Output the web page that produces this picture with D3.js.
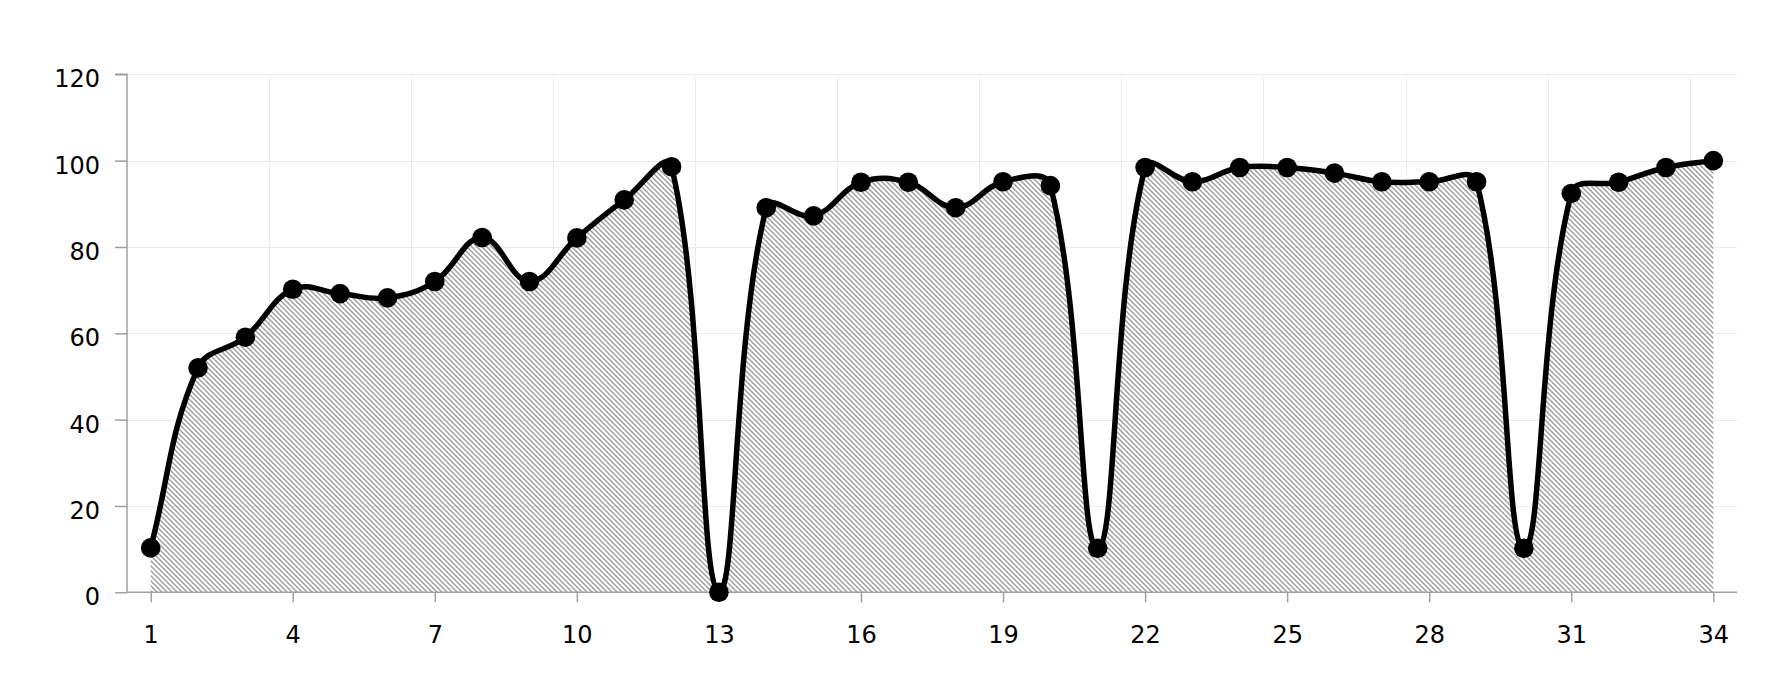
<!DOCTYPE html>
<html>
<head>
<meta charset="utf-8">
<script src="https://cdn.jsdelivr.net/npm/d3@7"></script>
<style>
  html, body { margin: 0; padding: 0; background: #fff; }
  svg { display: block; }
  .tick text { font-family: "DejaVu Sans", Verdana, sans-serif; font-size: 24px; fill: #000; }
</style>
</head>
<body>
<svg id="chart" width="1774" height="688"></svg>
<script>
const categories = [1,2,3,4,5,6,7,8,9,10,11,12,13,14,15,16,17,18,19,20,21,22,23,24,25,26,27,28,29,30,31,32,33,34];
const values = [10.3, 52.0, 59.1, 70.2, 69.2, 68.2, 72.0, 82.2, 72.0, 82.1, 90.9, 98.6, 0, 89.1, 87.2, 95.0, 95.0, 89.1, 95.1, 94.2, 10.2, 98.4, 95.1, 98.4, 98.4, 97.1, 95.1, 95.1, 95.1, 10.2, 92.4, 95.0, 98.4, 100];
const xTickLabels = [1, 4, 7, 10, 13, 16, 19, 22, 25, 28, 31, 34];
const yTickLabels = [0, 20, 40, 60, 80, 100, 120];
const xGridLines = [3.5, 6.5, 9.5, 12.5, 15.5, 18.5, 21.5, 24.5, 27.5, 30.5, 33.5];

const data = categories.map((c, i) => ({ x: c, y: values[i] }));

const svg = d3.select("#chart");
const x = d3.scaleLinear().domain([0.5, 34.5]).range([127, 1737]);
const y = d3.scaleLinear().domain([0, 120]).range([592.3, 74.3]);

// spline through points (tension-based, control points capped to plot area)
function splinePath(pts, tension, area, closeToY) {
  const n = pts.length;
  const cps = pts.map((cur, i) => {
    const prev = pts[Math.max(i - 1, 0)], next = pts[Math.min(i + 1, n - 1)];
    const d01 = Math.hypot(cur[0] - prev[0], cur[1] - prev[1]);
    const d12 = Math.hypot(next[0] - cur[0], next[1] - cur[1]);
    let s01 = d01 / (d01 + d12), s12 = d12 / (d01 + d12);
    if (isNaN(s01)) s01 = 0;
    if (isNaN(s12)) s12 = 0;
    const fa = tension * s01, fb = tension * s12;
    const cap = (v, lo, hi) => Math.max(lo, Math.min(hi, v));
    return {
      px: cap(cur[0] - fa * (next[0] - prev[0]), area.x0, area.x1),
      py: cap(cur[1] - fa * (next[1] - prev[1]), area.y0, area.y1),
      nx: cap(cur[0] + fb * (next[0] - prev[0]), area.x0, area.x1),
      ny: cap(cur[1] + fb * (next[1] - prev[1]), area.y0, area.y1)
    };
  });
  const p = d3.path();
  p.moveTo(pts[0][0], pts[0][1]);
  for (let i = 1; i < n; i++) {
    p.bezierCurveTo(cps[i - 1].nx, cps[i - 1].ny, cps[i].px, cps[i].py, pts[i][0], pts[i][1]);
  }
  if (closeToY !== undefined) {
    p.lineTo(pts[n - 1][0], closeToY);
    p.lineTo(pts[0][0], closeToY);
    p.closePath();
  }
  return p.toString();
}

const pix = data.map(d => [x(d.x), y(d.y)]);
const plotArea = { x0: x(0.5), x1: x(34.5), y0: y(120), y1: y(0) };

// pattern
const defs = svg.append("defs");
const pat = defs.append("pattern")
  .attr("id", "hatch")
  .attr("patternUnits", "userSpaceOnUse")
  .attr("width", 5).attr("height", 5);
pat.append("path")
  .attr("d", "M 0 0 L 5 5 M 4.5 -0.5 L 5.5 0.5 M -0.5 4.5 L 0.5 5.5")
  .attr("stroke", "#a0a0a0")
  .attr("stroke-width", 1.5)
  .attr("fill", "none");

// gridlines
const grid = svg.append("g");
grid.selectAll("line.h").data(yTickLabels).join("line")
  .attr("x1", x(0.5)).attr("x2", x(34.5))
  .attr("y1", d => Math.round(y(d)) + 0.5).attr("y2", d => Math.round(y(d)) + 0.5)
  .attr("stroke", "#ebebeb").attr("stroke-width", 1);
grid.selectAll("line.v").data(xGridLines).join("line")
  .attr("x1", d => Math.round(x(d)) + 0.5).attr("x2", d => Math.round(x(d)) + 0.5)
  .attr("y1", y(120)).attr("y2", y(0))
  .attr("stroke", "#ebebeb").attr("stroke-width", 1);

// area
svg.append("path")
  .attr("fill", "url(#hatch)")
  .attr("d", splinePath(pix, 0.4, plotArea, y(0)));

// axes
const yAxis = svg.append("g")
  .attr("transform", `translate(${x(0.5)},0)`)
  .call(d3.axisLeft(y).tickValues(yTickLabels).tickSize(12).tickPadding(15));
yAxis.selectAll("text").attr("dy", "0.52em");

const xAxis = svg.append("g")
  .attr("transform", `translate(0,${y(0)})`)
  .call(d3.axisBottom(x).tickValues(xTickLabels).tickSize(10).tickPadding(24));

[yAxis, xAxis].forEach(a => {
  a.select(".domain").attr("stroke", "#a0a0a0").attr("stroke-width", 1.5);
  a.selectAll(".tick line").attr("stroke", "#a0a0a0").attr("stroke-width", 1.5);
});
yAxis.select(".domain").attr("d", `M-12,${y(120)}H0V${y(0)}`);
xAxis.select(".domain").attr("d", `M${x(0.5)},0H${x(34.5)}`);

// line
svg.append("path")
  .attr("fill", "none")
  .attr("stroke", "#000")
  .attr("stroke-width", 5.5)
  .attr("stroke-linejoin", "round")
  .attr("d", splinePath(pix, 0.4, plotArea));

// markers
svg.append("g").selectAll("circle").data(data).join("circle")
  .attr("cx", d => x(d.x))
  .attr("cy", d => y(d.y))
  .attr("r", 9.8)
  .attr("fill", "#000");
</script>
</body>
</html>
